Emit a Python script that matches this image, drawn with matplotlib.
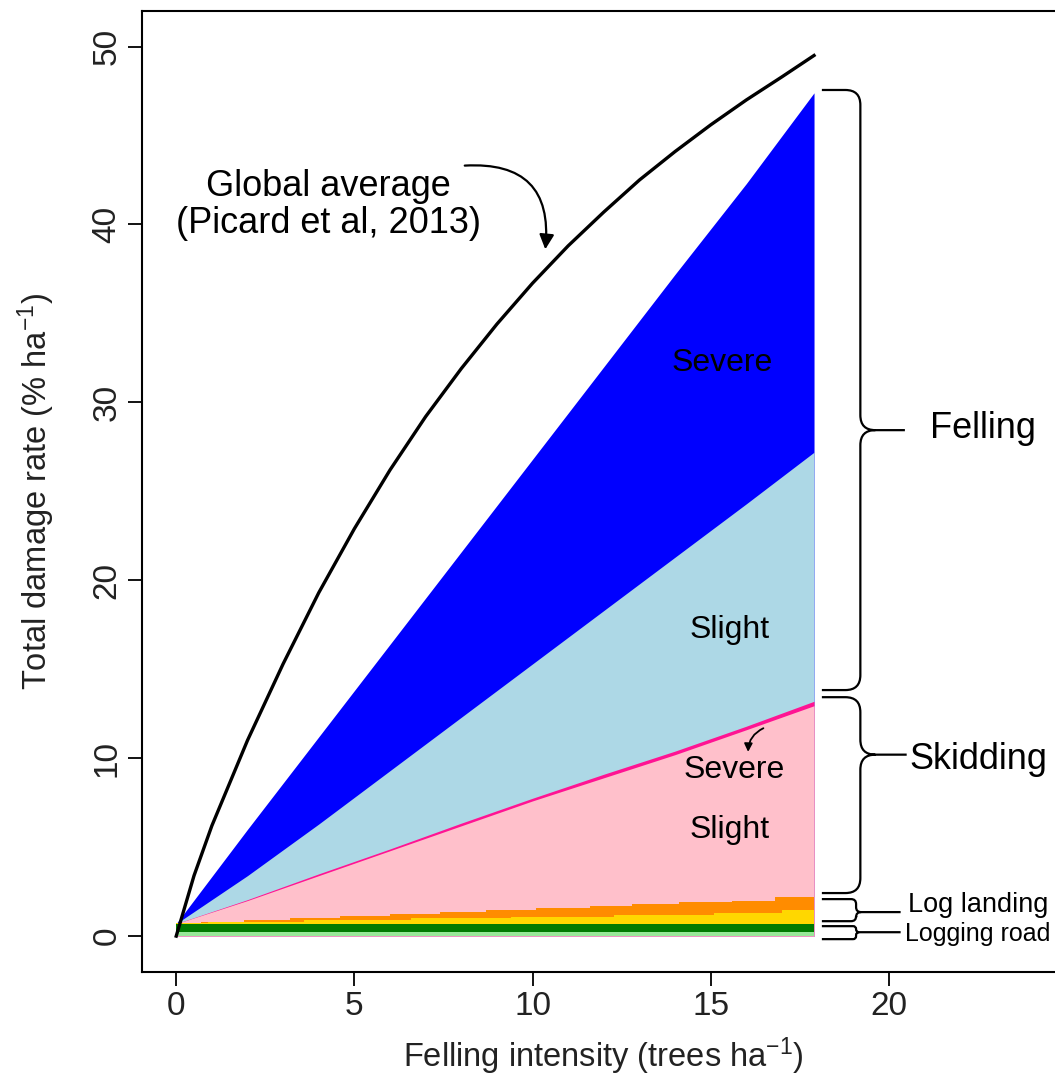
import matplotlib
matplotlib.use("Agg")
import matplotlib.pyplot as plt
from matplotlib.path import Path
from matplotlib.patches import PathPatch, FancyArrowPatch

plt.rcParams['font.family'] = ['Liberation Sans', 'DejaVu Sans']
plt.rcParams['mathtext.fontset'] = 'custom'
plt.rcParams['mathtext.rm'] = 'Liberation Sans'
plt.rcParams['mathtext.it'] = 'Liberation Sans'

# felling intensity (trees/ha) for the stacked damage layers
x_pts = [0, 2, 4, 6, 8, 10, 12, 14, 16, 17.9]
skid_slight_top = [0.7, 2.0, 3.4, 4.8, 6.2, 7.6, 8.9, 10.2, 11.6, 12.95]
skid_severe_top = [0.7, 2.05, 3.5, 4.9, 6.35, 7.75, 9.1, 10.4, 11.8, 13.2]
fell_slight_top = [0.7, 3.4, 6.3, 9.3, 12.3, 15.3, 18.3, 21.3, 24.3, 27.2]
fell_severe_top = [0.7, 6.0, 11.2, 16.4, 21.6, 26.8, 32.0, 37.2, 42.3, 47.4]

# log landing (step shaped)
x_orange = [0, 0.7, 1.9, 3.2, 4.6, 6.0, 7.4, 8.7, 10.1, 11.6, 12.8, 14.1, 15.6, 16.8, 17.9]
orange_top = [0.72, 0.82, 0.93, 1.03, 1.14, 1.25, 1.35, 1.46, 1.57, 1.68, 1.78, 1.89, 2.0, 2.2, 2.2]
x_yellow = [0, 0.9, 3.6, 6.6, 9.4, 12.3, 15.1, 17.0, 17.9]
yellow_top = [0.72, 0.8, 0.9, 1.0, 1.1, 1.2, 1.32, 1.46, 1.46]

# logging road
x_road = [0, 17.9]
road_slight_top = [0.22, 0.22]
road_severe_top = [0.67, 0.67]

# global average (Picard et al, 2013)
x_glob = [0, 0.5, 1, 2, 3, 4, 5, 6, 7, 8, 9, 10, 11, 12, 13, 14, 15, 16, 17, 17.9]
y_glob = [0, 3.4, 6.2, 11.0, 15.3, 19.3, 22.9, 26.2, 29.2, 31.9, 34.4, 36.7, 38.8,
          40.7, 42.5, 44.1, 45.6, 47.0, 48.3, 49.5]

x_ticks = [0, 5, 10, 15, 20]
y_ticks = [0, 10, 20, 30, 40, 50]

fig = plt.figure(figsize=(10.55, 10.81), dpi=100)
ax = fig.add_axes([142 / 1055, (1081 - 971.7) / 1081, (1065.6 - 142) / 1055, (971.7 - 11) / 1081])

# layers painted from the top one down
ax.fill_between(x_pts, 0, fell_severe_top, color='#0000FF', lw=0)
ax.fill_between(x_pts, 0, fell_slight_top, color='#ADD8E6', lw=0)
ax.fill_between(x_pts, 0, skid_severe_top, color='#FF1493', lw=0)
ax.fill_between(x_pts, 0, skid_slight_top, color='#FFC0CB', lw=0)
ax.fill_between(x_orange, 0, orange_top, step='post', color='#FF8C00', lw=0)
ax.fill_between(x_yellow, 0, yellow_top, step='post', color='#FFD700', lw=0)
ax.fill_between(x_road, 0, road_severe_top, color='#007A00', lw=0)
ax.fill_between(x_road, 0, road_slight_top, color='#98E898', lw=0)

# global average curve
ax.plot(x_glob, y_glob, color='black', lw=2.4)

ax.set_xlim(-0.96, 24.96)
ax.set_ylim(-2, 52)
ax.set_xticks(x_ticks)
ax.set_yticks(y_ticks)
for s in ax.spines.values():
    s.set_linewidth(1.5)
ax.tick_params(length=10, width=1.3, pad=4, labelsize=24, colors='black',
               labelcolor='#222222')
ax.tick_params(axis='y', labelrotation=90)
for lab in ax.get_yticklabels():
    lab.set_va('center')

ax.set_xlabel('Felling intensity (trees ha$^{-1}$)', fontsize=23.5, color='#222222')
ax.xaxis.set_label_coords(0.5, -0.066)
ax.set_ylabel('Total damage rate (% ha$^{-1}$)', fontsize=23.5, color='#222222')
ax.yaxis.set_label_coords(-0.092, 0.5)


# curly brace drawn in data coords
def brace(y_top, y_bot, y_tip, x0, xv, xt, r):
    rx = r / 35.63
    ry = r / 17.79
    verts = [(x0, y_top), (xv - rx, y_top), (xv, y_top), (xv, y_top - ry),
             (xv, y_tip + ry), (xv, y_tip), (xv + rx, y_tip), (xt, y_tip),
             (xv + rx, y_tip), (xv, y_tip), (xv, y_tip - ry),
             (xv, y_bot + ry), (xv, y_bot), (xv - rx, y_bot), (x0, y_bot)]
    codes = [Path.MOVETO, Path.LINETO, Path.CURVE3, Path.CURVE3,
             Path.LINETO, Path.CURVE3, Path.CURVE3, Path.LINETO,
             Path.MOVETO, Path.CURVE3, Path.CURVE3,
             Path.LINETO, Path.CURVE3, Path.CURVE3, Path.LINETO]
    ax.add_patch(PathPatch(Path(verts, codes), fill=False, lw=1.6, color='black'))


brace(47.56, 13.83, 28.44, 18.12, 19.2, 20.45, 15)
brace(13.43, 2.42, 10.2, 18.12, 19.2, 20.5, 15)
brace(2.08, 0.84, 1.35, 18.12, 19.08, 20.33, 5)
brace(0.56, -0.17, 0.22, 18.12, 19.08, 20.33, 3)

ax.text(21.16, 28.55, 'Felling', fontsize=26, va='center', ha='left')
ax.text(20.57, 9.9, 'Skidding', fontsize=26, va='center', ha='left')
ax.text(20.54, 1.74, 'Log landing', fontsize=19.5, va='center', ha='left')
ax.text(20.45, 0.11, 'Logging road', fontsize=18, va='center', ha='left')

ax.text(4.26, 41.1, 'Global average\n(Picard et al, 2013)', fontsize=26,
        ha='center', va='center', linespacing=1.05)
ax.text(15.32, 32.2, 'Severe', fontsize=23, ha='center', va='center')
ax.text(15.54, 17.2, 'Slight', fontsize=23, ha='center', va='center')
ax.text(15.66, 9.33, 'Severe', fontsize=23, ha='center', va='center')
ax.text(15.52, 5.96, 'Slight', fontsize=23, ha='center', va='center')

ax.add_patch(FancyArrowPatch((8.02, 43.3), (10.35, 38.45), connectionstyle='arc3,rad=-0.6',
                             arrowstyle='-|>', mutation_scale=22, lw=1.6, color='black'))
ax.add_patch(FancyArrowPatch((16.55, 11.75), (16.05, 10.2), connectionstyle='arc3,rad=0.35',
                             arrowstyle='-|>', mutation_scale=12, lw=1.3, color='black'))

fig.savefig('out.png', dpi=100)
